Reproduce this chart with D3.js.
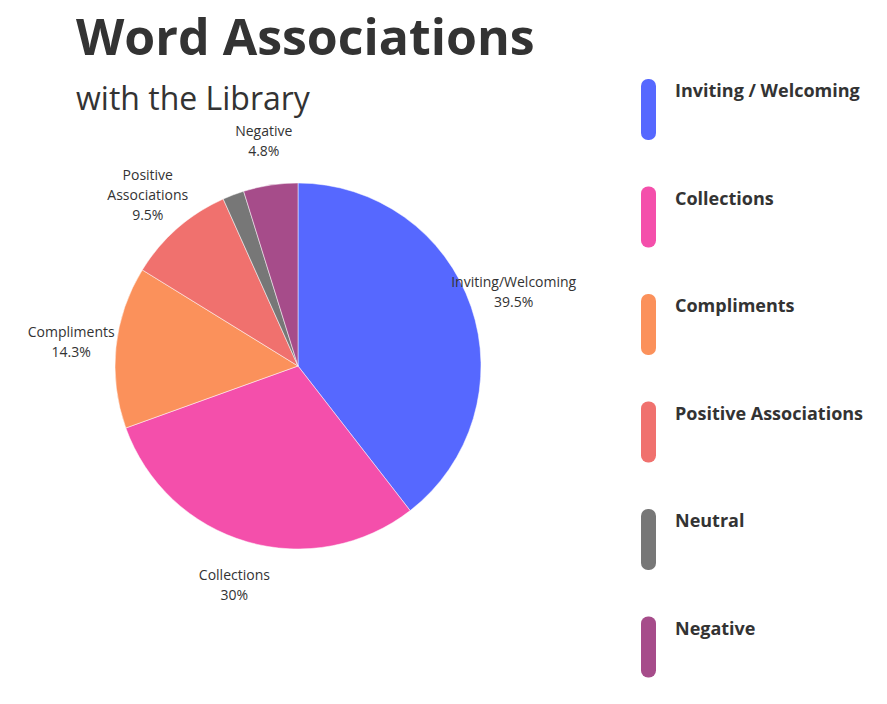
<!DOCTYPE html>
<html><head><meta charset="utf-8">
<script src="https://cdn.jsdelivr.net/npm/d3@7"></script>
<style>body{margin:0;background:#fff;font-family:"Open Sans",sans-serif;}</style>
</head><body><svg id="c" width="887" height="704"></svg>
<script>
const categories = ["Inviting/Welcoming","Collections","Compliments","Positive Associations","Neutral","Negative"];
const legendLabels = ["Inviting / Welcoming","Collections","Compliments","Positive Associations","Neutral","Negative"];
const values = [39.5,30,14.3,9.5,1.9,4.8];
const pctLabels = ["39.5%","30%","14.3%","9.5%","","4.8%"];
const colors = ["#5668FF","#F44FAB","#FB915B","#F0716E","#777777","#A64C8A"];

const svg = d3.select("#c");
svg.append("text").attr("x",76).attr("y",55).attr("font-size",50).attr("font-weight",700).attr("fill","#333").text("Word Associations");
svg.append("text").attr("x",76).attr("y",110).attr("font-size",32).attr("fill","#333").text("with the Library");

const cx=298, cy=366, r=183;
const pie = d3.pie().sort(null).value(d=>d)(values);
const arc = d3.arc().innerRadius(0).outerRadius(r);
const g = svg.append("g").attr("transform",`translate(${cx},${cy})`);
g.selectAll("path").data(pie).join("path").attr("d",arc).attr("fill",(d,i)=>colors[i]).attr("stroke","#fff").attr("stroke-width",0.5);
const lab = d3.arc().innerRadius(r+45).outerRadius(r+45);
pie.forEach((d,i)=>{
  if(!pctLabels[i]) return;
  const [x,y]=lab.centroid(d);
  let lines = i===3 ? ["Positive","Associations",pctLabels[i]] : [categories[i],pctLabels[i]];
  const t=g.append("text").attr("text-anchor","middle").attr("font-size",14).attr("fill","#333");
  const y0 = y - (lines.length-1)*20/2 + 5;
  lines.forEach((l,k)=>t.append("tspan").attr("x",x).attr("y",y0+k*20).text(l));
});

const ly = d3.scaleBand().domain(legendLabels).range([79,724]);
const lg = svg.append("g");
legendLabels.forEach((l,i)=>{
  lg.append("rect").attr("x",641).attr("y",ly(l)).attr("width",15).attr("height",61).attr("rx",7).attr("fill",colors[i]);
  lg.append("text").attr("x",675).attr("y",ly(l)+18).attr("font-size",18).attr("font-weight",700).attr("fill","#333").text(l);
});
</script></body></html>
